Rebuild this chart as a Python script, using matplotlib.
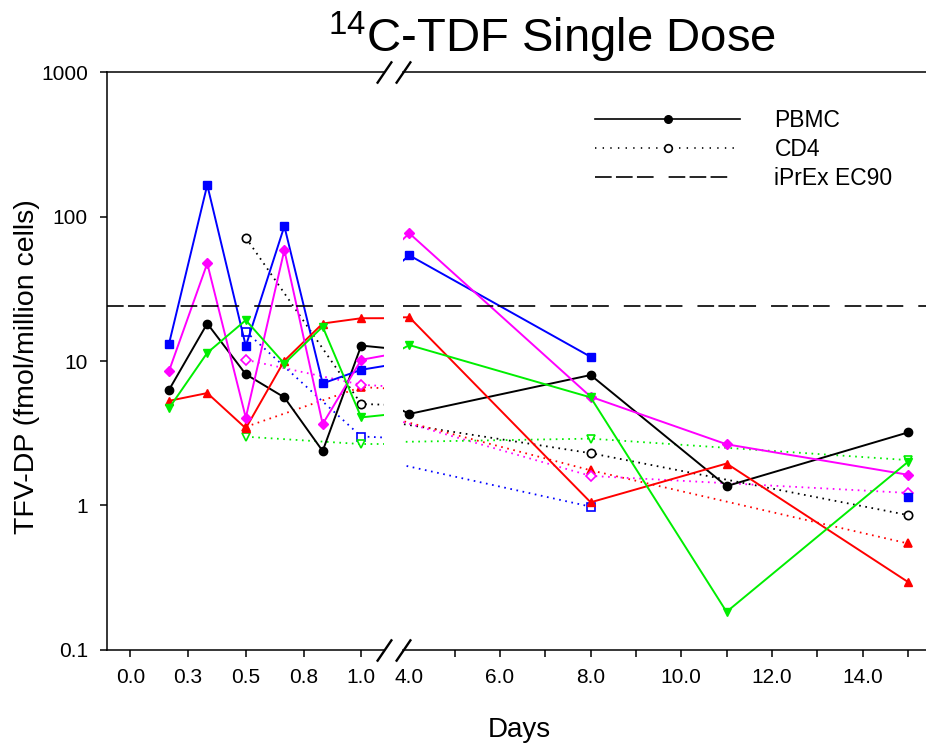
import numpy as np
import matplotlib.pyplot as plt
from matplotlib.lines import Line2D
from matplotlib.ticker import NullLocator, FixedLocator

plt.rcParams['font.family'] = ['Liberation Sans', 'DejaVu Sans']
plt.rcParams['mathtext.fontset'] = 'custom'
plt.rcParams['mathtext.rm'] = 'Liberation Sans'
plt.rcParams['mathtext.it'] = 'Liberation Sans:italic'
plt.rcParams['lines.scale_dashes'] = False

# sampling times (days)
pbmc_days = [0.167, 0.333, 0.5, 0.667, 0.833, 1.0, 4, 8, 11, 15]
cd4_days = [0.5, 1.0, 8, 15]

# PBMC, fmol/million cells (one list per subject)
pbmc_black = [6.3, 18.2, 8.1, 5.6, 2.38, 12.8, 4.3, 8.0, 1.36, 3.2]
pbmc_blue = [13.1, 166, 12.7, 86, 7.0, 8.7, 54, 10.7, np.nan, 1.15]
pbmc_magenta = [8.5, 47.5, 4.05, 58.8, 3.66, 10.2, 76.7, 5.66, 2.65, 1.63]
pbmc_red = [5.3, 6.0, 3.42, 10.05, 18.2, 19.8, 20.1, 1.05, 1.95, 0.295]
pbmc_green = [4.7, 11.4, 19.2, 9.6, 17.3, 4.07, 12.9, 5.6, 0.183, 2.0]

# CD4
cd4_black = [71.6, 5.04, 2.3, 0.857]
cd4_blue = [16.0, 3.0, 0.98, np.nan]
cd4_magenta = [10.2, 6.85, 1.6, 1.22]
cd4_red = [3.5, 6.6, 1.75, 0.545]
cd4_green = [2.99, 2.66, 2.9, 2.06]

ec90 = 24

left_ticks = [0, 0.25, 0.5, 0.75, 1.0]
left_labels = ['0.0', '0.3', '0.5', '0.8', '1.0']
right_ticks = [4, 5, 6, 7, 8, 9, 10, 11, 12, 13, 14, 15]
right_labels = ['4.0', '', '6.0', '', '8.0', '', '10.0', '', '12.0', '', '14.0', '']
y_ticks = [0.1, 1, 10, 100, 1000]
y_labels = ['0.1', '1', '10', '100', '1000']

subjects = [
    ('black', 'o', 6.0, pbmc_black, cd4_black, 'white'),
    ('blue', 's', 5.6, pbmc_blue, cd4_blue, 'white'),
    ('red', '^', 6.3, pbmc_red, cd4_red, 'red'),
    ('magenta', 'D', 4.7, pbmc_magenta, cd4_magenta, 'white'),
    ('#00ee00', 'v', 6.3, pbmc_green, cd4_green, 'white'),
]

W, H = 926, 743
fig = plt.figure(figsize=(W / 100, H / 100), dpi=100)

def box(x0, y0, x1, y1):
    return [x0 / W, 1 - y1 / H, (x1 - x0) / W, (y1 - y0) / H]

ax1 = fig.add_axes(box(107.3, 72.4, 384.3, 649.7))
ax2 = fig.add_axes(box(403, 72.4, 926, 649.7))

dots = (0, (1.2, 3.3))
ec_dash = (0, (12, 3.1, 12, 3.1, 12, 10.8))

for ax in (ax1, ax2):
    for col, mk, ms, pb, cd, cdface in subjects:
        ax.plot(cd4_days, cd, color=col, lw=1.3, ls=dots, marker=mk, ms=ms,
                mfc=cdface, mec=col, mew=1.2)
    for col, mk, ms, pb, cd, cdface in subjects:
        ax.plot(pbmc_days, pb, color=col, lw=1.4, marker=mk, ms=ms,
                mfc=col, mec=col)
    ax.axhline(ec90, color='k', lw=1.2, ls=ec_dash)
    ax.set_yscale('log')
    ax.set_ylim(0.1, 1000)
    ax.yaxis.set_minor_locator(NullLocator())
    ax.xaxis.set_minor_locator(NullLocator())
    ax.spines['right'].set_visible(False)
    for s in ax.spines.values():
        s.set_linewidth(1.1)
    ax.tick_params(direction='out', length=5, width=1.1, labelsize=15, pad=8)

ax1.set_xlim(-0.1, 1.1)
ax1.set_xticks(left_ticks)
ax1.set_xticklabels(left_labels)
ax1.set_yticks(y_ticks)
ax1.set_yticklabels(y_labels)
ax1.tick_params(axis='y', pad=9)

ax2.set_xlim(3.86, 15.4)
ax2.xaxis.set_major_locator(FixedLocator(right_ticks))
ax2.set_xticklabels(right_labels)
ax2.xaxis.get_major_ticks()[0].tick1line.set_visible(False)
ax2.spines['left'].set_visible(False)
ax2.tick_params(axis='y', left=False, labelleft=False)

# axis break marks
kw = dict(marker=[(-1, -1.47), (1, 1.47)], markersize=16, linestyle='none',
          color='k', mec='k', mew=1.7, clip_on=False)
ax1.plot([1, 1], [0, 1], transform=ax1.transAxes, **kw)
ax2.plot([0, 0], [0, 1], transform=ax2.transAxes, **kw)

handles = [
    Line2D([], [], color='k', lw=1.2, marker='o', ms=5.5),
    Line2D([], [], color='k', lw=1.2, ls=(0, (1, 4.5)), marker='o', ms=5.5, mfc='white', mew=1.2),
    Line2D([], [], color='k', lw=1.2, ls=ec_dash),
]
ax2.legend(handles, ['PBMC', 'CD4', 'iPrEx EC90'], loc='upper left',
           bbox_to_anchor=(595 / W, 1 - 109 / H), bbox_transform=fig.transFigure,
           frameon=False, fontsize=16.5, handlelength=6.33, handletextpad=1.5,
           labelspacing=0.27, borderpad=0, borderaxespad=0, numpoints=1)

fig.text(551.5 / W, 1 - 52 / H, r'$^{\mathrm{14}}$C-TDF Single Dose',
         ha='center', va='baseline', fontsize=34)
fig.text(27 / W, 1 - 367 / H, 'TFV-DP (fmol/million cells)', rotation=90,
         ha='center', va='center', fontsize=20.5)
fig.text(519 / W, 1 - 737 / H, 'Days', ha='center', va='baseline', fontsize=20)

fig.savefig('out.png', dpi=100)
